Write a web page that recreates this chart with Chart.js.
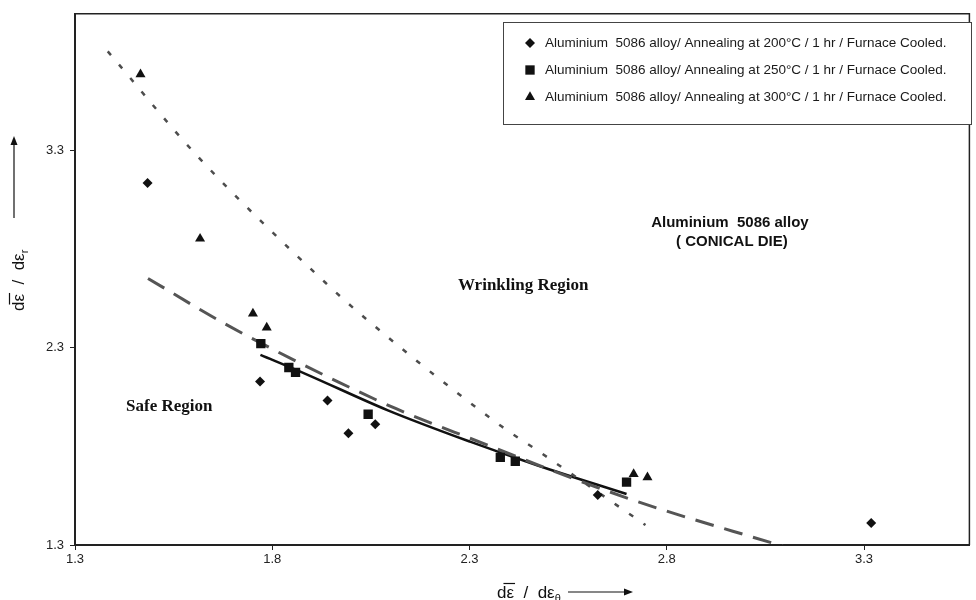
<!DOCTYPE html>
<html>
<head>
<meta charset="utf-8">
<script src="https://cdn.jsdelivr.net/npm/chart.js@4.4.1/dist/chart.umd.min.js"></script>
<style>
  html, body { margin: 0; padding: 0; background: #fff; }
  #wrap { width: 976px; height: 600px; }
</style>
</head>
<body>
<div id="wrap"><canvas id="chart" width="976" height="600"></canvas></div>
<script>
// tick labels
const xTicks = [1.3, 1.8, 2.3, 2.8, 3.3];
const yTicks = [1.3, 2.3, 3.3];

// legend text
const seriesLabels = [
  'Aluminium  5086 alloy/ Annealing at 200°C / 1 hr / Furnace Cooled.',
  'Aluminium  5086 alloy/ Annealing at 250°C / 1 hr / Furnace Cooled.',
  'Aluminium  5086 alloy/ Annealing at 300°C / 1 hr / Furnace Cooled.'
];

// 200°C (diamonds)
const x200 = [1.484, 1.769, 1.940, 1.993, 2.061, 2.625, 3.318];
const y200 = [3.133, 2.128, 2.032, 1.866, 1.911, 1.553, 1.411];
// 250°C (squares)
const x250 = [1.771, 1.842, 1.859, 2.043, 2.378, 2.416, 2.698];
const y250 = [2.320, 2.199, 2.174, 1.962, 1.744, 1.724, 1.618];
// 300°C (triangles)
const x300 = [1.466, 1.617, 1.751, 1.786, 2.716, 2.751];
const y300 = [3.684, 2.851, 2.472, 2.401, 1.659, 1.643];

// trend curves
const dottedX = [1.383, 1.610, 1.935, 2.043, 2.381, 2.471, 2.746];
const dottedY = [3.800, 3.270, 2.628, 2.436, 1.901, 1.780, 1.401];
const dashedX = [1.485, 1.670, 1.816, 1.968, 2.114, 2.261, 2.702, 3.100];
const dashedY = [2.650, 2.431, 2.276, 2.125, 1.990, 1.872, 1.536, 1.290];
const solidX = [1.770, 1.884, 2.093, 2.303, 2.471, 2.698];
const solidY = [2.263, 2.167, 1.982, 1.822, 1.704, 1.558];

const pts = (xs, ys) => xs.map((x, i) => ({ x: x, y: ys[i] }));

const markerStyles = ['rectRot', 'rect', 'triangle'];
const markerRadius = [5, 6.6, 5.8];

function drawMarker(ctx, style, r, x, y) {
  ctx.beginPath();
  if (style === 'rectRot') {
    ctx.moveTo(x - r, y); ctx.lineTo(x, y - r); ctx.lineTo(x + r, y); ctx.lineTo(x, y + r);
  } else if (style === 'rect') {
    const s = r * Math.SQRT1_2;
    ctx.rect(x - s, y - s, 2 * s, 2 * s);
  } else {
    const a = 2 * Math.PI / 3;
    ctx.moveTo(x, y - r);
    ctx.lineTo(x + Math.sin(a) * r, y - Math.cos(a) * r);
    ctx.lineTo(x - Math.sin(a) * r, y - Math.cos(a) * r);
  }
  ctx.closePath();
  ctx.fill();
}

// draws "dε̄ / dε" + subscript at the current origin
function axisTitle(ctx, sub) {
  ctx.font = '17px "Liberation Sans", Arial, sans-serif';
  let tx = 0;
  ctx.fillText('dε', tx, 0);
  const w1 = ctx.measureText('d').width, w2 = ctx.measureText('dε').width;
  ctx.beginPath(); ctx.moveTo(w1 - 3, -14.5); ctx.lineTo(w2 + 1, -14.5); ctx.stroke();
  tx += w2;
  ctx.fillText('  /  dε', tx, 0);
  tx += ctx.measureText('  /  dε').width;
  ctx.font = '11px "Liberation Sans", Arial, sans-serif';
  ctx.fillText(sub, tx, 4);
}

const decorPlugin = {
  id: 'decor',
  afterDraw(chart) {
    const { ctx, chartArea: a } = chart;
    const xs = chart.scales.x, ys = chart.scales.y;
    ctx.save();

    // top and right frame
    ctx.strokeStyle = '#222';
    ctx.lineWidth = 1.5;
    ctx.beginPath();
    ctx.moveTo(a.left, a.top);
    ctx.lineTo(a.right, a.top);
    ctx.lineTo(a.right, a.bottom);
    ctx.stroke();

    // legend box
    ctx.fillStyle = '#fff';
    ctx.fillRect(503, 22, 468, 102);
    ctx.strokeStyle = '#444';
    ctx.lineWidth = 1;
    ctx.strokeRect(503.5, 22.5, 468, 102);
    const rowY = [43, 70, 97];
    ctx.font = '13.5px "Liberation Sans", Arial, sans-serif';
    ctx.textBaseline = 'middle';
    ctx.textAlign = 'left';
    seriesLabels.forEach((lab, i) => {
      ctx.fillStyle = '#111';
      drawMarker(ctx, markerStyles[i], markerRadius[i], 530, rowY[i]);
      ctx.fillStyle = '#1a1a1a';
      ctx.fillText(lab, 545, rowY[i]);
    });

    // region labels
    ctx.fillStyle = '#111';
    ctx.textAlign = 'center';
    ctx.font = 'bold 17px "Liberation Serif", "Times New Roman", serif';
    ctx.fillText('Wrinkling Region', xs.getPixelForValue(2.436), ys.getPixelForValue(2.613));
    ctx.fillText('Safe Region', xs.getPixelForValue(1.539), ys.getPixelForValue(2.002));
    ctx.font = 'bold 15px "Liberation Sans", Arial, sans-serif';
    ctx.fillText('Aluminium  5086 alloy', xs.getPixelForValue(2.96), ys.getPixelForValue(2.931));
    ctx.fillText('( CONICAL DIE)', xs.getPixelForValue(2.965), ys.getPixelForValue(2.835));

    // x axis title with arrow
    ctx.textAlign = 'left';
    ctx.textBaseline = 'alphabetic';
    ctx.strokeStyle = '#111';
    ctx.lineWidth = 1.2;
    ctx.save();
    ctx.translate(497, 598);
    axisTitle(ctx, 'θ');
    ctx.restore();
    ctx.beginPath(); ctx.moveTo(568, 592); ctx.lineTo(626, 592); ctx.stroke();
    ctx.beginPath(); ctx.moveTo(633, 592); ctx.lineTo(624, 588.5); ctx.lineTo(624, 595.5); ctx.closePath(); ctx.fill();

    // y axis title, rotated, with arrow
    ctx.save();
    ctx.translate(24, 311);
    ctx.rotate(-Math.PI / 2);
    axisTitle(ctx, 'r');
    ctx.restore();
    ctx.beginPath(); ctx.moveTo(14, 218); ctx.lineTo(14, 144); ctx.stroke();
    ctx.beginPath(); ctx.moveTo(14, 136); ctx.lineTo(10.5, 145); ctx.lineTo(17.5, 145); ctx.closePath(); ctx.fill();

    ctx.restore();
  }
};

const markerSet = (label, xs, ys, i) => ({
  label: label,
  data: pts(xs, ys),
  pointStyle: markerStyles[i],
  pointRadius: markerRadius[i],
  pointBackgroundColor: '#111',
  pointBorderWidth: 0,
  showLine: false,
  order: 0
});

const trendSet = (xs, ys, color, width, dash) => ({
  label: '',
  data: pts(xs, ys),
  showLine: true,
  borderColor: color,
  borderWidth: width,
  borderDash: dash,
  pointRadius: 0,
  cubicInterpolationMode: 'monotone',
  order: 1
});

new Chart(document.getElementById('chart'), {
  type: 'scatter',
  data: {
    datasets: [
      trendSet(dottedX, dottedY, '#4d4d4d', 2.5, [5, 12.5]),
      trendSet(dashedX, dashedY, '#555', 3, [19, 11]),
      trendSet(solidX, solidY, '#111', 2.5, []),
      markerSet(seriesLabels[0], x200, y200, 0),
      markerSet(seriesLabels[1], x250, y250, 1),
      markerSet(seriesLabels[2], x300, y300, 2)
    ]
  },
  options: {
    responsive: false,
    animation: false,
    devicePixelRatio: 1,
    events: [],
    layout: { padding: { top: 12, right: 1, left: 0, bottom: 0 } },
    plugins: { legend: { display: false }, tooltip: { enabled: false } },
    scales: {
      x: {
        type: 'linear',
        min: 1.3,
        max: 3.567,
        afterBuildTicks: s => { s.ticks = xTicks.map(v => ({ value: v })); },
        afterFit: s => { s.height = 55; },
        grid: { drawOnChartArea: false, tickLength: 5, color: '#222', tickWidth: 1 },
        border: { color: '#222', width: 2 },
        ticks: {
          padding: 2,
          color: '#222',
          font: { family: '"Liberation Sans", Arial, sans-serif', size: 13 },
          callback: v => v.toFixed(1)
        }
      },
      y: {
        type: 'linear',
        min: 1.3,
        max: 3.99,
        afterBuildTicks: s => { s.ticks = yTicks.map(v => ({ value: v })); },
        afterFit: s => { s.width = 75; },
        grid: { drawOnChartArea: false, tickLength: 5, color: '#222', tickWidth: 1 },
        border: { color: '#222', width: 2 },
        ticks: {
          padding: 6,
          color: '#222',
          font: { family: '"Liberation Sans", Arial, sans-serif', size: 13 },
          callback: v => v.toFixed(1)
        }
      }
    }
  },
  plugins: [decorPlugin]
});
</script>
</body>
</html>
